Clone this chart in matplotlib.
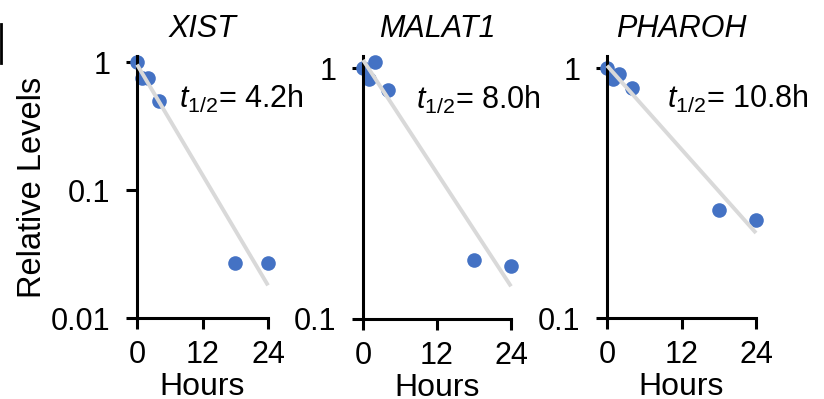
import matplotlib
matplotlib.use("Agg")
import matplotlib.pyplot as plt
from matplotlib.lines import Line2D

plt.rcParams['font.family'] = ['Liberation Sans', 'DejaVu Sans']
plt.rcParams['mathtext.fontset'] = 'custom'
plt.rcParams['mathtext.rm'] = 'Liberation Sans'
plt.rcParams['mathtext.it'] = 'Liberation Sans:italic'

# data
hours = [0, 1, 2, 4, 18, 24]
genes = ['XIST', 'MALAT1', 'PHAROH']
xist = [1.0, 0.76, 0.76, 0.50, 0.027, 0.027]
malat1 = [1.0, 0.91, 1.06, 0.82, 0.172, 0.162]
pharoh = [1.0, 0.906, 0.949, 0.837, 0.27, 0.247]
half_lives = ['4.2', '8.0', '10.8']
fit_start = [0.96, 1.08, 1.025]
fit_end = [0.018, 0.135, 0.219]
fit_hours = [0, 24]
ymins = [0.01, 0.1, 0.1]
yticks_list = [[0.01, 0.1, 1], [0.1, 1], [0.1, 1]]
ytick_labels = [['0.01', '0.1', '1'], ['0.1', '1'], ['0.1', '1']]
xticks = [0, 12, 24]

series = [xist, malat1, pharoh]

# axes boxes (fig fraction)
boxes = [
    [137 / 824, 81 / 399, 131 / 824, 262 / 399],
    [363 / 824, 80 / 399, 148 / 824, 263 / 399],
    [607 / 824, 81 / 399, 149 / 824, 262 / 399],
]
text_x = [0.32, 0.36, 0.40]

fig = plt.figure(figsize=(8.24, 3.99), dpi=100)
blue = '#4472C4'
grey = '#D9D9D9'
fs = 22

for i in range(3):
    ax = fig.add_axes(boxes[i])
    ax.set_yscale('log')
    ax.plot(hours, series[i], 'o', color=blue, markersize=10.5,
            markeredgewidth=0, clip_on=False, zorder=2)
    ax.plot(fit_hours, [fit_start[i], fit_end[i]], color=grey, lw=2.8,
            solid_capstyle='butt', clip_on=False, zorder=3)
    ax.set_xlim(0, 24)
    ax.set_ylim(ymins[i], 1.12)
    ax.set_xticks(xticks)
    ax.set_xticklabels([str(x) for x in xticks], fontsize=fs)
    ax.set_yticks(yticks_list[i])
    ax.set_yticklabels(ytick_labels[i], fontsize=fs)
    ax.minorticks_off()
    ax.tick_params(axis='both', direction='out', length=8, width=2.2)
    ax.tick_params(axis='x', pad=8)
    ax.tick_params(axis='y', pad=11)
    for s in ['top', 'right']:
        ax.spines[s].set_visible(False)
    for s in ['left', 'bottom']:
        ax.spines[s].set_linewidth(2.2)
    ax.set_title(genes[i], fontsize=fs, style='italic', pad=14)
    ax.set_xlabel('Hours', fontsize=23, labelpad=1)
    ax.text(text_x[i], 0.80, r'$t_{1/2}$= ' + half_lives[i] + 'h',
            transform=ax.transAxes, fontsize=fs, va='baseline', ha='left')
    if i == 0:
        ax.set_ylabel('Relative Levels', fontsize=23.5, labelpad=2)

# cropped panel letter edge at top left
fig.add_artist(Line2D([0.001, 0.001], [1 - 24 / 399, 1 - 63 / 399],
                      color='black', lw=2))

fig.savefig('out.png', dpi=100)
